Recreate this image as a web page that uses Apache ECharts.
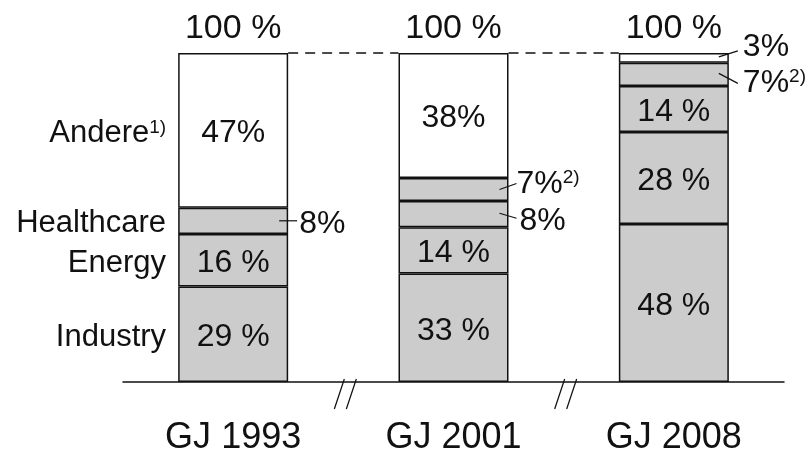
<!DOCTYPE html>
<html>
<head>
<meta charset="utf-8">
<script src="https://cdn.jsdelivr.net/npm/echarts@6/dist/echarts.min.js"></script>
<style>
html,body{margin:0;padding:0;background:#fff;}
#c{width:808px;height:454px;}
</style>
</head>
<body>
<div id="c"></div>
<script>
// ---- data ----
const categories = ['GJ 1993', 'GJ 2001', 'GJ 2008'];
const industry   = [29, 33, 48];
const energy     = [16, 14, 28];
const healthcare = [8, 8, 14];
const newSegment = [null, 7, 7];   // footnote 2)
const andere     = [47, 38, 3];
const totals     = [100, 100, 100];

const industryLabels   = ['29 %', '33 %', '48 %'];
const energyLabels     = ['16 %', '14 %', '28 %'];
const healthcareLabels = ['8%', '8%', '14 %'];
const newSegmentLabels = ['', '7%{sup|2)}', '7%{sup|2)}'];
const andereLabels     = ['47%', '38%', '3%'];
const totalLabel       = '100 %';
const rowNames = ['Industry', 'Energy', 'Healthcare', 'Andere{sup|1)}'];

// ---- styles ----
const FONT = '"Liberation Sans", Arial, Helvetica, sans-serif';
const GRAY = '#cccccc';
const INK = '#111111';
const BAR_W = 110;
const rich = { sup: { fontSize: 19, fontFamily: FONT, color: INK, verticalAlign: 'top', lineHeight: 19 } };

// callout geometry (pixels relative to the bar's right edge / segment centre)
const calloutStyle = {
  healthcare: { 0: { x1: -9, y1: 0, x2: 9, y2: 0, tx: 11, ty: 3 },
                1: { x1: -9, y1: -1, x2: 8, y2: 4, tx: 11, ty: 7 } },
  newSegment: { 1: { x1: -9, y1: 0, x2: 8, y2: -6, tx: 8, ty: -5 },
                2: { x1: -10, y1: -1, x2: 9, y2: 9, tx: 14, ty: 9 } },
  andere:     { 2: { x1: -10, y1: -1, x2: 9, y2: -7, tx: 14, ty: -11 } }
};

const seriesDefs = [
  { key: 'industry',   name: 'Industry',   values: industry,   labels: industryLabels,   color: GRAY },
  { key: 'energy',     name: 'Energy',     values: energy,     labels: energyLabels,     color: GRAY },
  { key: 'healthcare', name: 'Healthcare', values: healthcare, labels: healthcareLabels, color: GRAY },
  { key: 'newSegment', name: 'Sonstige',   values: newSegment, labels: newSegmentLabels, color: GRAY },
  { key: 'andere',     name: 'Andere',     values: andere,     labels: andereLabels,     color: '#ffffff' }
];

function barSeries(def) {
  const out = calloutStyle[def.key] || {};
  return {
    name: def.name,
    type: 'bar',
    stack: 'total',
    xAxisIndex: 0,
    barWidth: BAR_W,
    clip: false,
    z: 3,
    itemStyle: { color: def.color, borderColor: INK, borderWidth: 1.5 },
    data: def.values.map(function (v, i) {
      return {
        value: v,
        label: {
          show: !out[i] && !!def.labels[i],
          position: 'inside',
          offset: [0, 3],
          formatter: def.labels[i],
          fontSize: 32, fontFamily: FONT, color: INK, rich: rich
        }
      };
    }),
    emphasis: { disabled: true }
  };
}

// callouts: segment centres computed from the stacked data
const callouts = [];
seriesDefs.forEach(function (def, s) {
  const out = calloutStyle[def.key] || {};
  def.values.forEach(function (v, i) {
    if (!out[i]) return;
    let base = 0;
    for (let k = 0; k < s; k++) base += seriesDefs[k].values[i] || 0;
    callouts.push({ value: [i, base + v / 2], text: def.labels[i], geo: out[i] });
  });
});

// left-side row labels at the centres of the first bar's segments
const firstBar = [industry[0], energy[0], healthcare[0], andere[0]];
const rowCentres = [];
let acc = 0;
firstBar.forEach(function (v) { rowCentres.push(acc + v / 2); acc += v; });

const option = {
  backgroundColor: '#ffffff',
  animation: false,
  grid: { left: 123, right: 24, top: 53, bottom: 72, containLabel: false, outerBoundsMode: 'none' },
  xAxis: [
    {
      type: 'category',
      data: categories,
      axisLine: { show: true, lineStyle: { color: INK, width: 1.5 } },
      axisTick: { show: false },
      axisLabel: { fontSize: 36, fontFamily: FONT, color: INK, margin: 38 },
      splitLine: { show: false }
    },
    { type: 'value', min: -0.5, max: 2.5, show: false }
  ],
  yAxis: { type: 'value', min: 0, max: 100, show: false },
  series: seriesDefs.map(barSeries).concat([
    {
      // dashed connector between the tops of neighbouring bars
      type: 'custom',
      xAxisIndex: 0,
      z: 2,
      data: totals.slice(0, -1).map(function (t, i) { return [i, t, totals[i + 1]]; }),
      renderItem: function (params, api) {
        const a = api.coord([api.value(0), api.value(1)]);
        const b = api.coord([api.value(0) + 1, api.value(2)]);
        return {
          type: 'line',
          shape: { x1: a[0] + BAR_W / 2, y1: a[1], x2: b[0] - BAR_W / 2, y2: b[1] },
          style: { stroke: INK, lineWidth: 1.5, lineDash: [10, 7] }
        };
      },
      emphasis: { disabled: true }
    },
    {
      type: 'scatter',
      xAxisIndex: 0,
      data: totals,
      symbolSize: 0,
      itemStyle: { opacity: 1 },
      label: {
        show: true, position: 'top', distance: 7, formatter: totalLabel,
        fontSize: 34, fontFamily: FONT, color: INK
      },
      emphasis: { disabled: true }
    },
    {
      type: 'scatter',
      xAxisIndex: 1,
      symbolSize: 0,
      itemStyle: { opacity: 1 },
      data: rowCentres.map(function (y) { return [-0.25, y]; }),
      label: {
        show: true, position: 'left', distance: 12, offset: [0, 3],
        fontSize: 31, fontFamily: FONT, color: INK, rich: rich,
        formatter: function (p) { return rowNames[p.dataIndex]; }
      },
      emphasis: { disabled: true }
    },
    {
      type: 'custom',
      xAxisIndex: 0,
      z: 6,
      data: callouts.map(function (c) { return c.value; }),
      renderItem: function (params, api) {
        const c = callouts[params.dataIndex];
        const p = api.coord([api.value(0), api.value(1)]);
        const right = p[0] + BAR_W / 2;
        const g = c.geo;
        return {
          type: 'group',
          children: [
            {
              type: 'line',
              shape: { x1: right + g.x1, y1: p[1] + g.y1, x2: right + g.x2, y2: p[1] + g.y2 },
              style: { stroke: INK, lineWidth: 1.2 }
            },
            {
              type: 'text',
              x: right + g.tx,
              y: p[1] + g.ty,
              style: {
                text: c.text, rich: rich,
                fontSize: 32, fontFamily: FONT,
                fill: INK, align: 'left', verticalAlign: 'middle'
              }
            }
          ]
        };
      },
      emphasis: { disabled: true }
    },
    {
      type: 'scatter',
      xAxisIndex: 1,
      data: [[0.5, 0], [1.5, 0]],
      symbol: 'path://M10 0 L0 30 M22 0 L12 30',
      symbolSize: [22, 30],
      symbolOffset: [2, 12],
      itemStyle: { color: 'rgba(0,0,0,0)', borderColor: INK, borderWidth: 1.5, opacity: 1 },
      z: 5,
      emphasis: { disabled: true }
    }
  ])
};

const chart = echarts.init(document.getElementById('c'), null, { renderer: 'canvas' });
chart.setOption(option);
</script>
</body>
</html>
